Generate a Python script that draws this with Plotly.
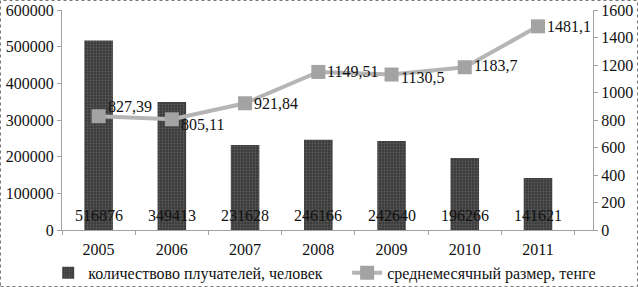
import plotly.graph_objects as go

years = ["2005", "2006", "2007", "2008", "2009", "2010", "2011"]
recipients = [516876, 349413, 231628, 246166, 242640, 196266, 141621]
avg_size = [827.39, 805.11, 921.84, 1149.51, 1130.5, 1183.7, 1481.1]
avg_labels = ["827,39", "805,11", "921,84", "1149,51", "1130,5", "1183,7", "1481,1"]
left_ticks = [0, 100000, 200000, 300000, 400000, 500000, 600000]
right_ticks = [0, 200, 400, 600, 800, 1000, 1200, 1400, 1600]
label_dy = [10, -5, 0, 0, -3, 2, 0]

FONT = "Liberation Serif"
FS = 16

fig = go.Figure()
fig.add_trace(go.Bar(
    x=years, y=recipients, name="количествово плучателей, человек",
    marker=dict(color="#474747", line=dict(width=0),
                pattern=dict(shape=".", fgcolor="#7a7a7a", bgcolor="#3c3c3c", size=3, solidity=0.3)),
    legend="legend",
))
fig.add_trace(go.Scatter(
    x=years, y=avg_size, yaxis="y2", name="среднемесячный размер, тенге",
    mode="lines+markers",
    line=dict(color="#b5b5b5", width=4),
    marker=dict(symbol="square", size=14, color="#a3a3a3"),
    cliponaxis=False, legend="legend2",
))
for i, v in enumerate(recipients):
    fig.add_annotation(x=i, xref="x", y=0, yref="y", text=str(v), showarrow=False,
                       yanchor="middle", yshift=15,
                       font=dict(family=FONT, size=FS, color="#111"))
for i, (v, lab) in enumerate(zip(avg_size, avg_labels)):
    fig.add_annotation(x=i, xref="x", y=v, yref="y2", text=lab, showarrow=False,
                       xanchor="left", yanchor="middle", xshift=7, yshift=label_dy[i],
                       font=dict(family=FONT, size=FS, color="#111"))

leg_common = dict(orientation="h", yanchor="top", y=-0.118, xanchor="left",
                  font=dict(family=FONT, size=FS, color="#111"),
                  bgcolor="rgba(0,0,0,0)", itemwidth=30)
fig.update_layout(
    width=638, height=287,
    margin=dict(l=62, r=45, t=10, b=57, autoexpand=False),
    paper_bgcolor="white", plot_bgcolor="white",
    font=dict(family=FONT, size=FS, color="#111"),
    bargap=0.61,
    showlegend=True,
    legend=dict(x=-0.026, **leg_common),
    legend2=dict(x=0.537, **leg_common),
    xaxis=dict(type="category", showline=True, linecolor="#a0a0a0", linewidth=1, ticks="outside",
               tickson="boundaries", ticklen=4, tickcolor="#a0a0a0", ticklabelstandoff=5,
               showgrid=False, tickfont=dict(family=FONT, size=FS)),
    yaxis=dict(range=[0, 600000], tickvals=left_ticks, ticktext=[str(t) for t in left_ticks],
               showline=True, linecolor="#a0a0a0", ticks="outside", ticklen=4,
               tickcolor="#a0a0a0", showgrid=False, zeroline=False,
               tickfont=dict(family=FONT, size=FS)),
    yaxis2=dict(range=[0, 1600], tickvals=right_ticks, ticktext=[str(t) for t in right_ticks],
                overlaying="y", side="right", showline=True, linecolor="#a0a0a0",
                ticks="outside", ticklen=4, tickcolor="#a0a0a0", showgrid=False,
                zeroline=False, tickfont=dict(family=FONT, size=FS)),
)
fig.add_shape(type="rect", xref="paper", yref="paper",
              x0=-61.5/531, x1=1+44.5/531, y0=-56.5/220, y1=1+9.5/220,
              line=dict(color="#777", width=1, dash="dot"))
fig.write_html("out.html")
